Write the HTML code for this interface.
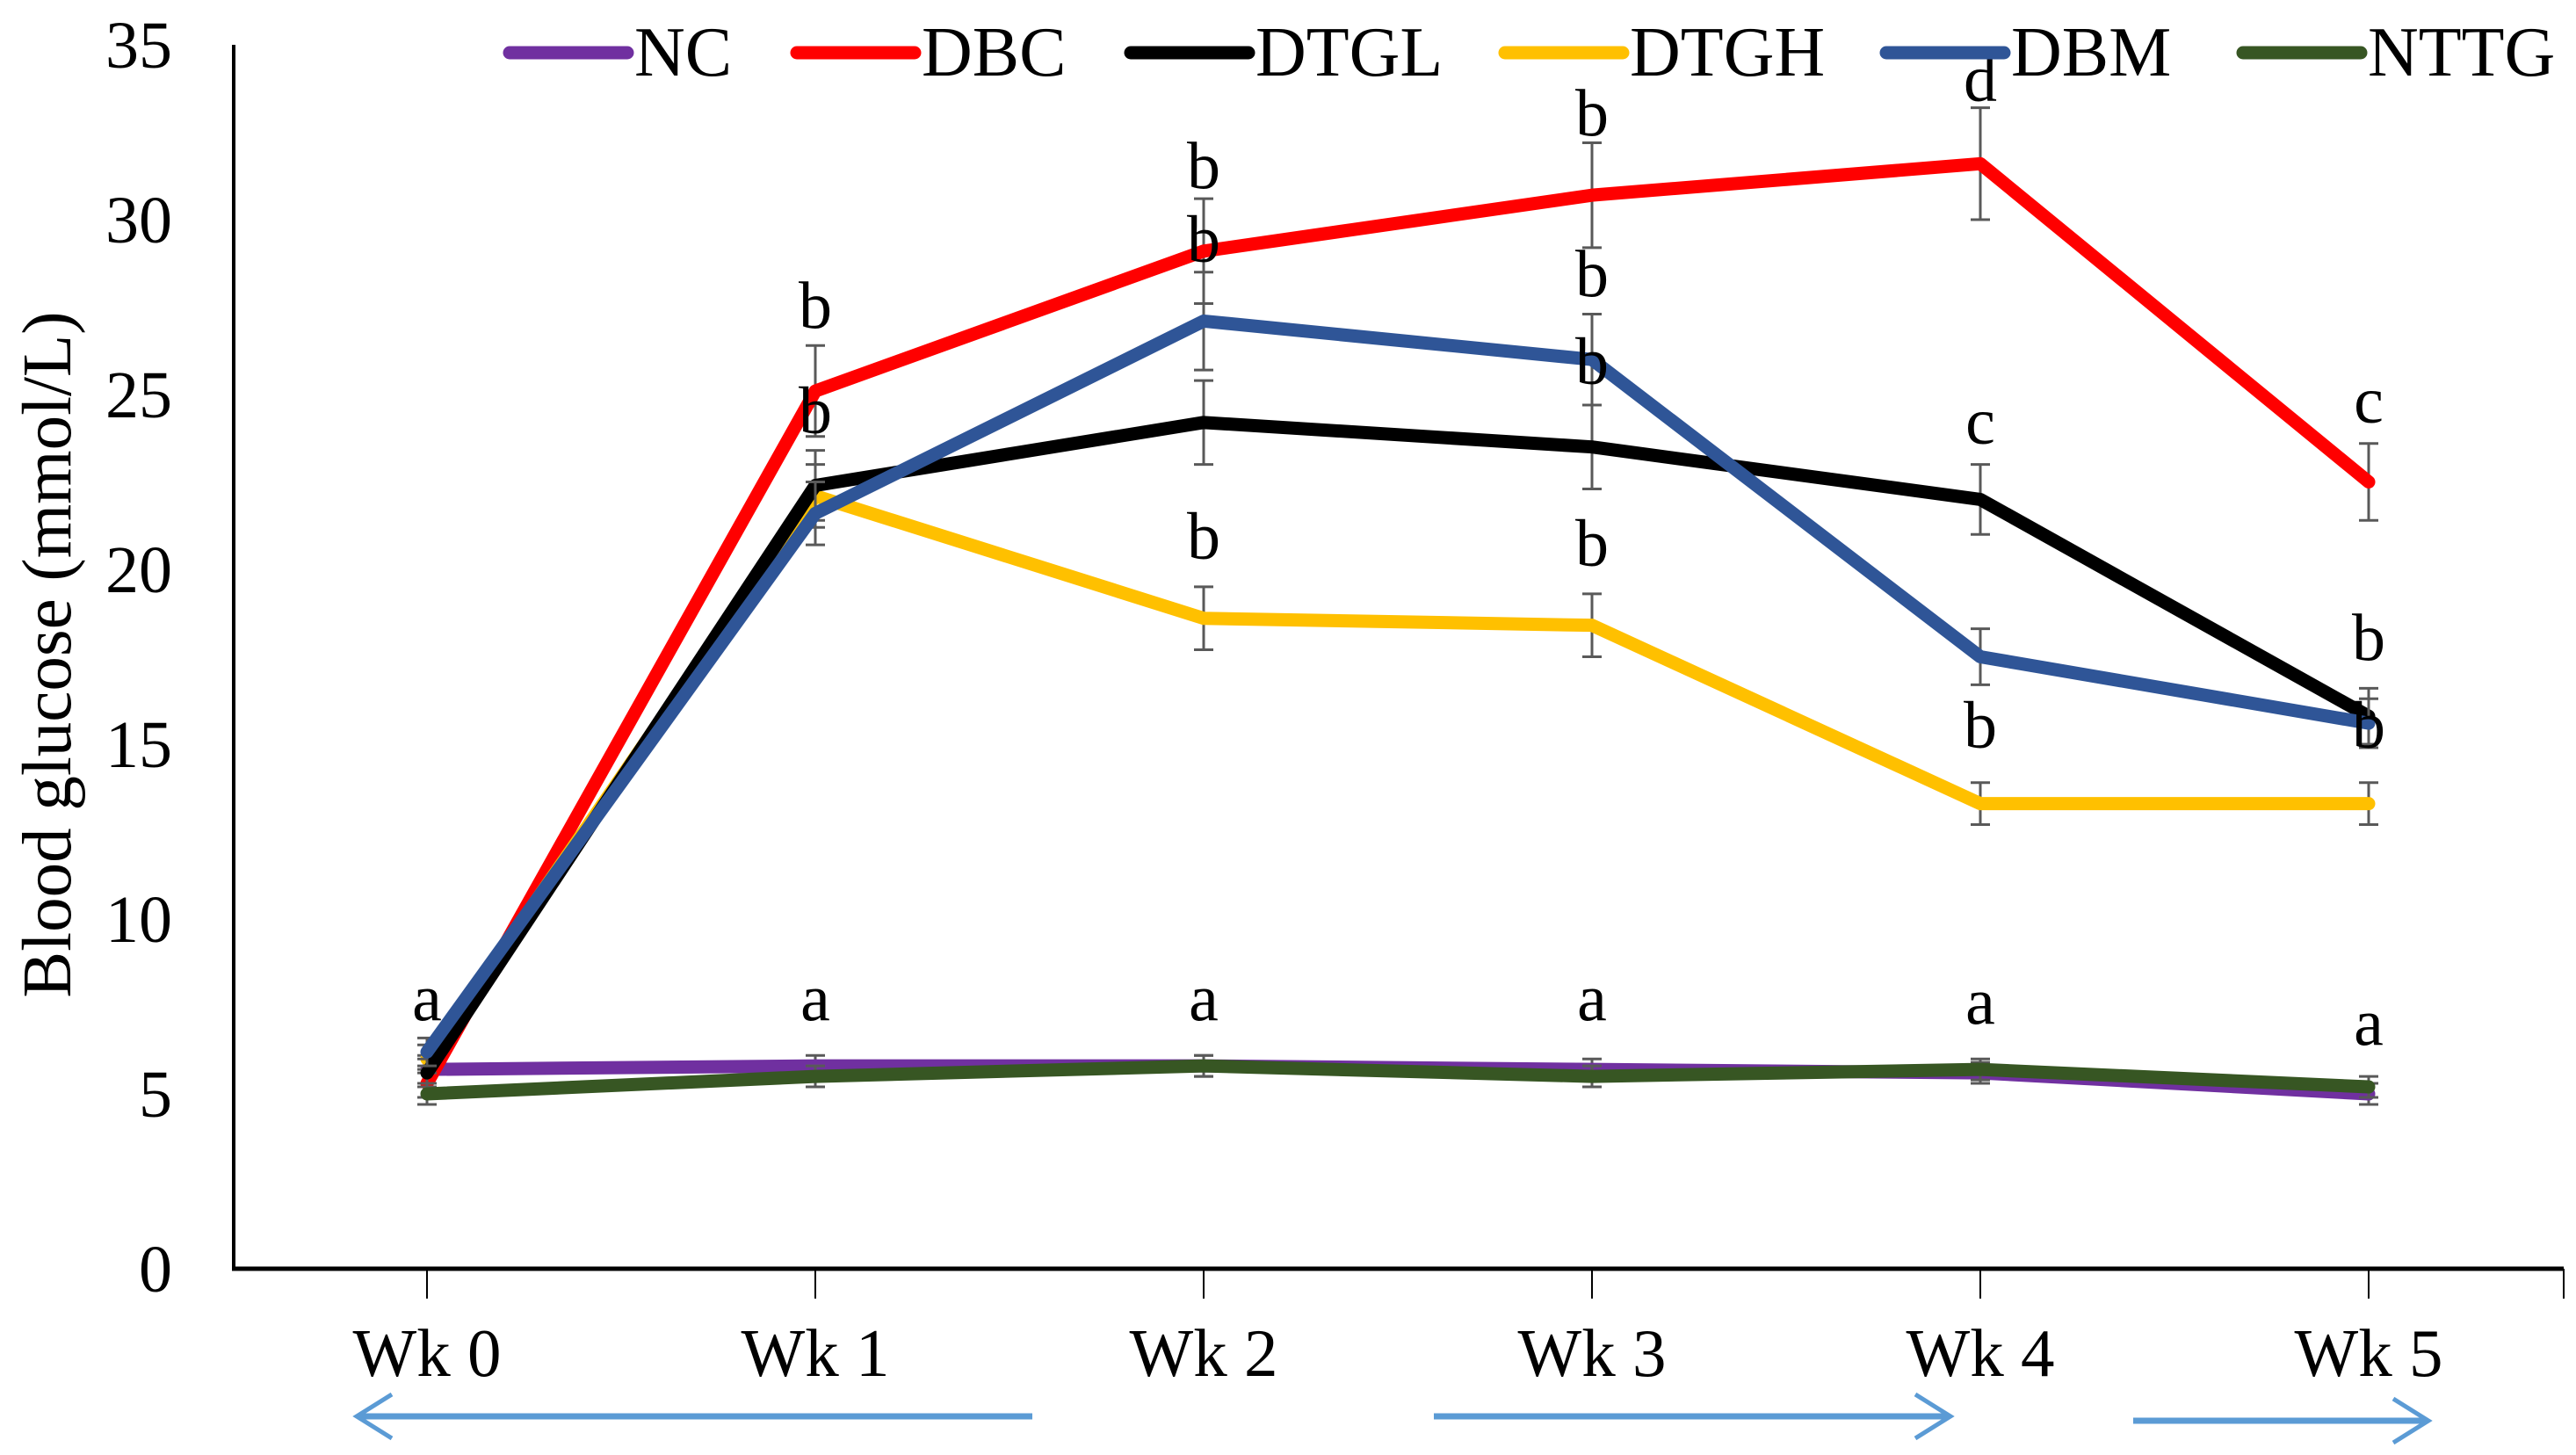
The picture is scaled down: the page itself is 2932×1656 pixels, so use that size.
<!DOCTYPE html>
<html><head><meta charset="utf-8">
<style>
html,body{margin:0;padding:0;background:#fff;}
svg{display:block;font-family:"Liberation Serif",serif;}
</style></head>
<body>
<svg id="chart" width="2932" height="1656" viewBox="0 0 2932 1656">
<g id="axes"></g>
<g id="series"></g>
<g id="letters"></g>
<g id="legend"></g>
<text x="0" y="0" transform="translate(80,745) rotate(-90)" text-anchor="middle" font-size="79">Blood glucose (mmol/L)</text>
<g stroke="#5b9bd5" stroke-width="7" fill="none">
 <line x1="408" y1="1612" x2="1175" y2="1612"/>
 <polyline points="446,1587 406,1612 446,1637" stroke-width="5"/>
 <line x1="1632" y1="1612" x2="2218" y2="1612"/>
 <polyline points="2180,1587 2220,1612 2180,1637" stroke-width="5"/>
 <line x1="2428" y1="1617" x2="2762" y2="1617"/>
 <polyline points="2724,1592 2764,1617 2724,1642" stroke-width="5"/>
</g>
</svg>
<script>
const categories = ["Wk 0","Wk 1","Wk 2","Wk 3","Wk 4","Wk 5"];
const yTicks = [0,5,10,15,20,25,30,35];
const seriesNames = ["NC","DBC","DTGL","DTGH","DBM","NTTG"];
const seriesColors = ["#7030a0","#ff0000","#000000","#ffc000","#2f5597","#375623"];
const ncValues   = [5.7,5.8,5.8,5.7,5.6,5.0];
const dbcValues  = [5.3,25.1,29.1,30.7,31.6,22.5];
const dtglValues = [5.6,22.4,24.2,23.5,22.0,15.8];
const dtghValues = [6.0,22.1,18.6,18.4,13.3,13.3];
const dbmValues  = [6.2,21.6,27.1,26.0,17.5,15.6];
const nttgValues = [5.0,5.5,5.8,5.5,5.7,5.2];
const ncErr   = [0.4,0.3,0.3,0.3,0.3,0.3];
const dbcErr  = [0.4,1.3,1.5,1.5,1.6,1.1];
const dtglErr = [0.4,1.0,1.2,1.2,1.0,0.8];
const dtghErr = [0.4,0.9,0.9,0.9,0.6,0.6];
const dbmErr  = [0.4,0.9,1.4,1.3,0.8,0.7];
const nttgErr = [0.3,0.3,0.3,0.3,0.3,0.3];
const letterCats = [0,1,1,1,2,2,2,2,3,3,3,3,3,4,4,4,4,5,5,5,5];
const letterVals = [7.7,27.5,24.5,7.7,31.5,29.4,20.9,7.7,33.0,28.4,25.9,20.7,7.7,34.0,24.2,15.5,7.6,24.8,18.0,15.5,7.0];
const letterText = ["a","b","b","a","b","b","b","a","b","b","b","b","a","d","c","b","a","c","b","b","a"];

const X0=486, XS=442, Y0=1444, YU=39.8;
const xPos = i => X0 + i*XS;
const yPos = v => Y0 - v*YU;
const NS="http://www.w3.org/2000/svg";
function mk(parent, tag, attrs){const e=document.createElementNS(NS,tag);for(const k in attrs)e.setAttribute(k,attrs[k]);parent.appendChild(e);return e;}

const axes=document.getElementById('axes');
let e;
e=mk(axes,'line',{x1:266,y1:yPos(35),x2:266,y2:Y0+2,stroke:'#000','stroke-width':4});


e=mk(axes,'line',{x1:264,y1:Y0,x2:2918,y2:Y0,stroke:'#000','stroke-width':5});


yTicks.forEach(t=>{
  const tx=mk(axes,'text',{x:196,y:yPos(t)+26,'text-anchor':'end','font-size':76});
  tx.textContent=t;
  
  
});
categories.forEach((c,i)=>{
  const tk=mk(axes,'line',{x1:xPos(i),y1:Y0,x2:xPos(i),y2:Y0+34,stroke:'#000','stroke-width':2});
  
  
  const tx=mk(axes,'text',{x:xPos(i),y:1566,'text-anchor':'middle','font-size':77});
  tx.textContent=c;
  
  
});
const endTick=mk(axes,'line',{x1:2918,y1:Y0,x2:2918,y2:Y0+34,stroke:'#000','stroke-width':2});



const allVals=[ncValues,dbcValues,dtglValues,dtghValues,dbmValues,nttgValues];
const allErr=[ncErr,dbcErr,dtglErr,dtghErr,dbmErr,nttgErr];
const sg=document.getElementById('series');
const order=[0,1,3,2,4,5];
order.forEach(s=>{
  const g=mk(sg,'g',{});
  
  
  allVals[s].forEach((v,i)=>{
    const er=allErr[s][i], x=xPos(i);
    const eb=mk(g,'path',{d:`M${x},${yPos(v+er)}V${yPos(v-er)}M${x-11},${yPos(v+er)}H${x+11}M${x-11},${yPos(v-er)}H${x+11}`,stroke:'#595959','stroke-width':3,fill:'none'});
    
    
  });
  const pts=allVals[s].map((v,i)=>xPos(i)+','+yPos(v)).join(' ');
  const pl=mk(g,'polyline',{points:pts,fill:'none',stroke:seriesColors[s],'stroke-width':15,'stroke-linejoin':'round','stroke-linecap':'round'});
  
  
});

const lg=document.getElementById('letters');
letterText.forEach((t,k)=>{
  const tx=mk(lg,'text',{x:xPos(letterCats[k]),y:yPos(letterVals[k])+24,'text-anchor':'middle','font-size':76});
  tx.textContent=t;
  
  
});

const leg=document.getElementById('legend');
const legX=[580,907,1287,1713,2147,2553];
seriesNames.forEach((n,s)=>{
  const g=mk(leg,'g',{});
  
  
  mk(g,'line',{x1:legX[s],y1:60,x2:legX[s]+134,y2:60,stroke:seriesColors[s],'stroke-width':15,'stroke-linecap':'round'});
  const tx=mk(g,'text',{x:legX[s]+142,y:86,'font-size':80});
  tx.textContent=n;
});
</script>
</body></html>
